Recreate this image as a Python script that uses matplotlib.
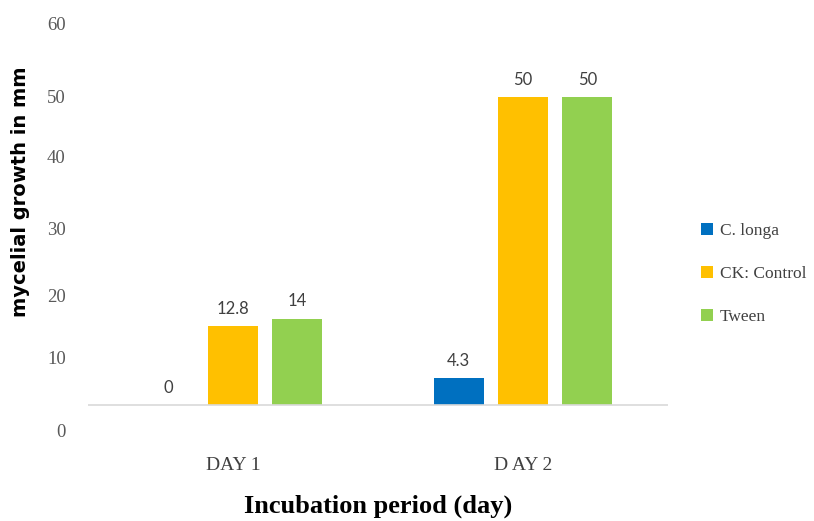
import numpy as np
import matplotlib.pyplot as plt

# Mycelial growth (mm) per treatment over the incubation period
days = ["DAY 1", "D AY 2"]
series = ["C. longa", "CK: Control", "Tween"]
c_longa = [0, 4.3]
control = [12.8, 50]
tween = [14, 50]

# y tick labels and the heights at which they sit
ytick_labels = ["0", "10", "20", "30", "40", "50", "60"]
ytick_pos = [-4.1, 7.7, 17.7, 28.7, 40.3, 50.1, 62.0]

colors = ["#0070C0", "#FFC000", "#92D050"]
serif = ["Liberation Serif", "DejaVu Serif"]

fig = plt.figure(figsize=(8.14, 5.21), dpi=100)
ax = fig.add_axes([88 / 814, 81 / 521, 580 / 814, 425 / 521])

x = np.arange(len(days))
width = 0.172
step = 0.222
values = [c_longa, control, tween]

for i, (name, vals, col) in enumerate(zip(series, values, colors)):
    pos = x + (i - 1) * step
    bars = ax.bar(pos, vals, width, color=col, label=name)
    for b, v in zip(bars, vals):
        ax.text(b.get_x() + b.get_width() / 2, v + 1.5, f"{v:g}",
                ha="center", va="bottom", fontsize=12,
                color="#404040", family="Lato")

ax.set_xlim(-0.5, 1.5)
ax.set_ylim(-5.7, 63.3)
ax.axhline(0, color="#d9d9d9", lw=1.2)

for s in ax.spines.values():
    s.set_visible(False)

ax.set_yticks(ytick_pos)
ax.set_yticklabels(ytick_labels, family=serif, fontsize=13.5, color="#595959")
ax.tick_params(axis="y", length=0, pad=16)

ax.set_xticks(x)
ax.set_xticklabels(days, family=serif, fontsize=14, color="#404040")
ax.tick_params(axis="x", length=0, pad=12)

ax.set_xlabel("Incubation period (day)", family=serif, fontsize=19,
              fontweight="bold", labelpad=15)
ax.set_ylabel("mycelial growth in mm", fontsize=14, fontweight="bold")
ax.yaxis.set_label_coords(-0.1, 0.584)

leg = ax.legend(loc="center left", bbox_to_anchor=(1.03, 0.39), frameon=False,
                prop={"family": serif, "size": 12.5}, handlelength=0.7,
                handleheight=0.7, handletextpad=0.4, labelspacing=1.55)
for t in leg.get_texts():
    t.set_color("#404040")

fig.savefig("out.png", dpi=100)
